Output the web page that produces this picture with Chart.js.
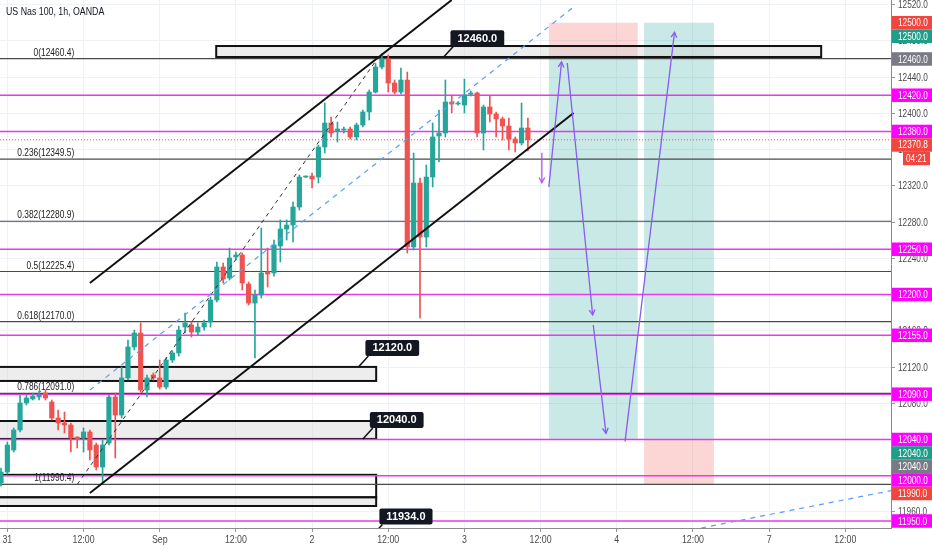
<!DOCTYPE html>
<html>
<head>
<meta charset="utf-8">
<script src="https://cdn.jsdelivr.net/npm/chart.js@4.4.0/dist/chart.umd.min.js"></script>
<style>
html, body { margin: 0; padding: 0; background: #fff; }
#wrap { width: 932px; height: 550px; }
</style>
</head>
<body>
<div id="wrap"><canvas id="chart" width="932" height="550"></canvas></div>
<script>
// hourly candles, US Nas 100 (OANDA), index 0 = first visible bar
const opens  = [11992.0,12004.1,12028.4,12050.5,12080.3,12084.7,12086.9,12091.3,12081.4,12063.7,
                12058.2,12056.0,12042.7,12041.6,12048.3,12033.9,12009.6,12036.1,12086.9,12067.0,
                12107.9,12142.1,12157.5,12094.6,12111.2,12107.9,12097.9,12127.7,12135.5,12164.1,
                12166.4,12158.6,12164.1,12169.7,12194.0,12230.4,12218.2,12241.4,12243.6,12211.6,
                12190.6,12199.5,12224.9,12223.8,12253.6,12272.3,12276.7,12296.6,12329.7,12330.8,
                12329.7,12362.8,12389.3,12380.5,12381.6,12382.7,12373.9,12387.1,12401.5,12423.5,
                12451.1,12460.0,12433.5,12423.5,12436.8,12252.5,12323.1,12263.5,12329.7,12375.0,
                12378.3,12412.5,12410.3,12409.2,12421.3,12422.4,12378.3,12407.0,12399.3,12393.8,
                12386.0,12371.7,12367.3,12383.8];
const highs  = [12008.5,12037.2,12052.7,12089.1,12089.1,12091.3,12093.5,12094.6,12083.6,12072.5,
                12070.3,12058.2,12043.0,12052.7,12050.5,12036.1,12039.4,12089.1,12091.3,12120.0,
                12149.8,12160.8,12168.6,12111.2,12113.4,12127.7,12130.0,12138.0,12165.2,12179.6,
                12169.7,12168.6,12171.9,12197.3,12235.9,12234.8,12251.3,12246.9,12245.8,12213.8,
                12205.0,12273.4,12251.3,12260.2,12282.3,12282.3,12302.1,12331.9,12331.0,12334.1,
                12365.0,12411.4,12396.0,12390.4,12384.9,12384.9,12389.3,12403.7,12425.8,12455.0,
                12466.0,12464.4,12436.8,12450.0,12445.6,12356.2,12328.6,12343.0,12389.3,12403.7,
                12436.8,12420.2,12413.0,12437.9,12424.6,12423.5,12409.2,12419.1,12401.5,12396.0,
                12394.9,12373.9,12411.4,12394.9];
const lows   = [11988.6,12001.9,12026.2,12048.3,12078.1,12083.6,12083.6,12083.6,12061.5,12050.5,
                12047.2,12026.2,12030.6,12026.2,12017.4,12006.3,11992.0,12033.9,12019.6,12063.7,
                12105.7,12138.8,12092.4,12086.9,12105.7,12095.7,12095.7,12125.0,12132.2,12157.5,
                12153.1,12155.3,12160.8,12164.1,12191.8,12212.7,12216.0,12238.1,12205.0,12188.4,
                12130.0,12196.2,12208.3,12220.4,12235.9,12260.2,12258.0,12293.3,12329.0,12317.6,
                12323.1,12356.2,12373.9,12368.4,12378.3,12371.7,12370.6,12384.9,12392.6,12422.4,
                12449.0,12423.5,12421.3,12421.3,12245.8,12249.2,12174.1,12252.5,12318.7,12346.3,
                12373.9,12400.4,12409.0,12400.4,12419.1,12373.9,12359.5,12390.4,12373.9,12370.6,
                12359.5,12357.3,12365.0,12358.4];
const closes = [12004.1,12033.9,12050.5,12080.3,12085.8,12088.0,12089.1,12085.8,12063.7,12058.2,
                12056.0,12041.6,12040.5,12048.3,12028.4,12009.6,12033.9,12086.9,12067.0,12107.9,
                12142.1,12157.5,12094.6,12107.9,12107.9,12097.9,12127.7,12135.5,12160.8,12168.6,
                12158.6,12164.1,12168.6,12194.0,12230.4,12217.1,12240.3,12243.6,12212.7,12190.6,
                12199.5,12223.8,12222.7,12254.7,12272.3,12276.7,12296.6,12329.7,12330.8,12327.5,
                12362.8,12389.3,12378.3,12382.7,12382.7,12373.9,12387.1,12401.5,12423.5,12451.1,
                12460.0,12433.5,12423.5,12436.8,12252.5,12323.1,12263.5,12329.7,12373.9,12378.3,
                12412.5,12410.3,12411.0,12420.2,12422.4,12378.3,12407.0,12399.3,12393.8,12386.0,
                12371.7,12367.3,12383.8,12370.8];

// time axis (bar index of each label) and price axis ticks
const timeTickIdx = [1, 13, 25, 37, 49, 61, 73, 85, 97, 109, 121, 133];
const timeTickLabels = ['31', '12:00', 'Sep', '12:00', '2', '12:00', '3', '12:00', '4', '12:00', '7', '12:00'];
const priceTicks = [11960, 12000, 12040, 12080, 12120, 12160, 12200, 12240, 12280, 12320, 12360, 12400, 12440, 12480, 12520];
const viewIdx = [-0.16, 140.2];
const viewPrice = [11942.3, 12525.1];

// drawn levels
const magentaLevels = [12420, 12380, 12250, 12200, 12155, 12090, 12040, 12000, 11950];
const fibRatios = ['0', '0.236', '0.382', '0.5', '0.618', '0.786', '1'];
const fibPrices = [12460.4, 12349.5, 12280.9, 12225.4, 12170.0, 12091.0, 11990.4];
const fibAnchor = [[12, 11990.4], [59.3, 12460.4]];
const lastPrice = 12370.8;

// zones: [fromIdx, toIdx, topPrice, bottomPrice, filled]
const zones = [
  [33.9, 129.2, 12474.3, 12462.2, true],
  [-5, 59.1, 12120.1, 12104.6, true],
  [-5, 59.1, 12060.4, 12040.6, true],
  [-5, 59.1, 12001.0, 11976.2, false],
  [-5, 59.1, 11976.2, 11966.6, true]
];
// callouts: [anchorIdx, anchorPrice, text]
const callouts = [
  [69.7, 12462.0, '12460.0'],
  [56.3, 12120.1, '12120.0'],
  [57.0, 12040.6, '12040.0'],
  [58.5, 11934.0, '11934.0']
];
// short and long position tools: [fromIdx, toIdx, entry, stop, target]
const positions = [
  [86.3, 100.3, 12460, 12500, 12040],
  [101.3, 112.3, 12040, 11990, 12500]
];
// trend lines: [idx1, price1, idx2, price2]
const channelLines = [[14, 12212.7, 71, 12525.1], [14, 11981.0, 90.2, 12400.4]];
const blueDashed = [[14, 12094.6, 90.2, 12517.4], [110.3, 11942.3, 140.2, 11983.5]];
const projPath = [
  [86.3, 12318.7, 88.3, 12456.7],
  [89.2, 12455.6, 93.2, 12177.4],
  [93.3, 12166.4, 95.3, 12046.8],
  [98.3, 12037.6, 106.1, 12489.5]
];
const smallArrow = [85.2, 12356.5, 85.2, 12323.4];

// right axis price labels: [price, text, colour]
const axisLabels = [
  [12500, '12500.0', '#f2453d'], [12500, '12500.0', '#1e9e8a'], [12460, '12460.0', '#787b86'],
  [12420, '12420.0', '#ff00ff'], [12380, '12380.0', '#ff00ff'], [12370.8, '12370.8', '#f2453d'],
  [12250, '12250.0', '#ff00ff'], [12200, '12200.0', '#ff00ff'], [12155, '12155.0', '#ff00ff'],
  [12090, '12090.0', '#ff00ff'], [12040, '12040.0', '#ff00ff'], [12040, '12040.0', '#1e9e8a'],
  [12040, '12040.0', '#787b86'], [12000, '12000.0', '#ff00ff'], [11990, '11990.0', '#f2453d'],
  [11950, '11950.0', '#ff00ff']
];
const countdown = '04:21';

const UP = '#26a69a', DOWN = '#ef5350';
const SANS = '"Liberation Sans", Arial, sans-serif';
const candleColors = opens.map((o, i) => closes[i] >= o ? UP : DOWN);

function line(ctx, x1, y1, x2, y2) {
  ctx.beginPath(); ctx.moveTo(x1, y1); ctx.lineTo(x2, y2); ctx.stroke();
}

// the original screenshot is squeezed sideways, so text is drawn condensed
function narrowText(ctx, txt, x, y, sx) {
  ctx.save();
  ctx.translate(x, y);
  ctx.scale(sx || 0.8, 1);
  ctx.fillText(txt, 0, 0);
  ctx.restore();
}

function arrowHead(ctx, x1, y1, x2, y2) {
  const ang = Math.atan2(y2 - y1, x2 - x1), len = 6, spread = 0.5;
  ctx.beginPath();
  ctx.moveTo(x2 - len * Math.cos(ang - spread), y2 - len * Math.sin(ang - spread));
  ctx.lineTo(x2, y2);
  ctx.lineTo(x2 - len * Math.cos(ang + spread), y2 - len * Math.sin(ang + spread));
  ctx.stroke();
}

const overlay = {
  id: 'overlay',
  beforeDatasetsDraw(chart) {
    const {ctx, chartArea: a, scales: {x, y}} = chart;
    const px = v => x.getPixelForValue(v), py = v => y.getPixelForValue(v);
    ctx.save();
    ctx.beginPath(); ctx.rect(a.left, a.top, a.right - a.left, a.bottom - a.top); ctx.clip();

    positions.forEach(([i1, i2, entry, stop, target]) => {
      const l = px(i1), w = px(i2) - px(i1);
      ctx.fillStyle = 'rgba(239, 83, 80, 0.24)';
      ctx.fillRect(l, py(Math.max(entry, stop)), w, Math.abs(py(stop) - py(entry)));
      ctx.fillStyle = 'rgba(38, 166, 154, 0.25)';
      ctx.fillRect(l, py(Math.max(entry, target)), w, Math.abs(py(target) - py(entry)));
    });

    zones.forEach(([i1, i2, top, bot, filled]) => {
      const l = px(i1), t = py(top), w = px(i2) - l, h = py(bot) - t;
      if (filled) { ctx.fillStyle = 'rgba(210, 210, 210, 0.4)'; ctx.fillRect(l, t, w, h); }
      ctx.strokeStyle = '#111'; ctx.lineWidth = 2;
      ctx.strokeRect(l, t, w, h);
    });

    ctx.strokeStyle = '#e83be8'; ctx.lineWidth = 1.5;
    magentaLevels.forEach(p => line(ctx, a.left, py(p), a.right, py(p)));

    ctx.strokeStyle = '#4a4a4a'; ctx.lineWidth = 1.2;
    ctx.font = '10px ' + SANS; ctx.fillStyle = '#222';
    ctx.textAlign = 'right'; ctx.textBaseline = 'alphabetic';
    const fx = px(fibAnchor[0][0]) - 3;
    fibPrices.forEach((p, k) => {
      line(ctx, a.left, py(p), a.right, py(p));
      narrowText(ctx, fibRatios[k] + '(' + p.toFixed(1) + ')', fx, py(p) - 3, 0.84);
    });

    ctx.strokeStyle = DOWN; ctx.lineWidth = 1; ctx.setLineDash([1, 2]);
    line(ctx, a.left, py(lastPrice), a.right, py(lastPrice));
    ctx.setLineDash([]);
    ctx.restore();
  },
  afterDatasetsDraw(chart) {
    const {ctx, chartArea: a, scales: {x, y}} = chart;
    const px = v => x.getPixelForValue(v), py = v => y.getPixelForValue(v);

    // axis tick labels, condensed like the original
    ctx.save();
    ctx.fillStyle = '#4a4a4a'; ctx.font = '11px ' + SANS;
    ctx.textBaseline = 'middle'; ctx.textAlign = 'left';
    y.ticks.forEach(t => narrowText(ctx, t.value.toFixed(1), a.right + 7, py(t.value) + 0.5, 0.75));
    ctx.textAlign = 'center';
    x.ticks.forEach(t => narrowText(ctx, timeTickLabels[timeTickIdx.indexOf(t.value)], px(t.value), a.bottom + 12, 0.8));
    ctx.restore();

    ctx.save();
    ctx.beginPath(); ctx.rect(a.left, a.top, a.right - a.left, a.bottom - a.top); ctx.clip();

    ctx.strokeStyle = '#111'; ctx.lineWidth = 2;
    channelLines.forEach(([i1, p1, i2, p2]) => line(ctx, px(i1), py(p1), px(i2), py(p2)));

    ctx.strokeStyle = '#333'; ctx.lineWidth = 1; ctx.setLineDash([4, 4]);
    line(ctx, px(fibAnchor[0][0]), py(fibAnchor[0][1]), px(fibAnchor[1][0]), py(fibAnchor[1][1]));
    ctx.strokeStyle = '#5b9cf6'; ctx.lineWidth = 1.2; ctx.setLineDash([5, 5]);
    blueDashed.forEach(([i1, p1, i2, p2]) => line(ctx, px(i1), py(p1), px(i2), py(p2)));
    ctx.setLineDash([]);

    ctx.strokeStyle = '#8a5cf0'; ctx.lineWidth = 1.3;
    projPath.forEach(([i1, p1, i2, p2]) => {
      line(ctx, px(i1), py(p1), px(i2), py(p2));
      arrowHead(ctx, px(i1), py(p1), px(i2), py(p2));
    });
    ctx.strokeStyle = '#b455f0';
    line(ctx, px(smallArrow[0]), py(smallArrow[1]), px(smallArrow[2]), py(smallArrow[3]));
    arrowHead(ctx, px(smallArrow[0]), py(smallArrow[1]), px(smallArrow[2]), py(smallArrow[3]));

    ctx.font = 'bold 11px ' + SANS;
    ctx.textAlign = 'center'; ctx.textBaseline = 'middle';
    callouts.forEach(([i, p, txt]) => {
      const ax = px(i), ay = py(p);
      const bx = ax + 7, bb = ay - 11, bw = ctx.measureText(txt).width + 14, bh = 16;
      ctx.strokeStyle = '#111'; ctx.lineWidth = 1.5;
      line(ctx, ax, ay, bx + 3, bb);
      ctx.fillStyle = '#131722';
      ctx.beginPath(); ctx.roundRect(bx, bb - bh, bw, bh, 2); ctx.fill();
      ctx.fillStyle = '#fff';
      ctx.fillText(txt, bx + bw / 2, bb - bh / 2 + 0.5);
    });

    ctx.font = '11px ' + SANS; ctx.fillStyle = '#131722';
    ctx.textAlign = 'left';
    narrowText(ctx, 'US Nas 100, 1h, OANDA', a.left + 6, a.top + 12, 0.8);
    ctx.restore();

    // price labels on the right axis, pushed apart so they do not overlap
    const h = 13.5;
    const items = axisLabels.map(([p, txt, col]) => ({y: py(p), txt, col, rows: p === lastPrice ? 2 : 1}))
      .sort((m, n) => m.y - n.y);
    let prev = -Infinity;
    ctx.save();
    ctx.font = '11px ' + SANS; ctx.textBaseline = 'middle'; ctx.textAlign = 'left';
    items.forEach(it => {
      const top = Math.max(it.y - h / 2, prev);
      ctx.fillStyle = it.col;
      ctx.fillRect(a.right + 1, top, chart.width - a.right - 1, h);
      ctx.fillStyle = '#fff';
      narrowText(ctx, it.txt, a.right + 7, top + h / 2 + 0.5, 0.75);
      if (it.rows === 2) {
        ctx.fillStyle = it.col;
        ctx.fillRect(a.right + 12, top + h, chart.width - a.right - 14, h);
        ctx.fillStyle = '#fff';
        narrowText(ctx, countdown, a.right + 15, top + h * 1.5 + 0.5, 0.75);
      }
      prev = top + h * it.rows;
    });
    ctx.restore();
  }
};

new Chart(document.getElementById('chart'), {
  type: 'bar',
  data: {
    datasets: [
      {
        data: lows.map((l, i) => ({x: i, y: [l, highs[i]]})),
        backgroundColor: candleColors,
        barThickness: 1,
        grouped: false
      },
      {
        data: opens.map((o, i) => ({x: i, y: [o, closes[i]]})),
        backgroundColor: candleColors,
        barThickness: 4.5,
        minBarLength: 1,
        grouped: false
      }
    ]
  },
  options: {
    responsive: false,
    animation: false,
    layout: { padding: 0 },
    plugins: { legend: { display: false }, tooltip: { enabled: false } },
    scales: {
      x: {
        type: 'linear',
        min: viewIdx[0],
        max: viewIdx[1],
        offset: false,
        grid: { offset: false, color: '#eef1f6', tickLength: 4, tickColor: '#999' },
        border: { color: '#8a8a8a' },
        afterBuildTicks: s => { s.ticks = timeTickIdx.map(v => ({value: v})); },
        afterFit: s => { s.height = 22; s.paddingLeft = 0; s.paddingRight = 0; },
        ticks: {
          autoSkip: false, maxRotation: 0, padding: 2,
          color: 'rgba(0,0,0,0)', font: { family: SANS, size: 9 },
          callback: v => timeTickLabels[timeTickIdx.indexOf(v)]
        }
      },
      y: {
        position: 'right',
        min: viewPrice[0],
        max: viewPrice[1],
        grid: { color: '#eef1f6', tickLength: 4, tickColor: '#999' },
        border: { color: '#8a8a8a' },
        afterBuildTicks: s => { s.ticks = priceTicks.map(v => ({value: v})); },
        afterFit: s => { s.width = 41; s.paddingTop = 0; s.paddingBottom = 0; },
        ticks: {
          padding: 2, color: 'rgba(0,0,0,0)', font: { family: SANS, size: 9 },
          callback: v => v.toFixed(1)
        }
      }
    }
  },
  plugins: [overlay]
});
</script>
</body>
</html>
